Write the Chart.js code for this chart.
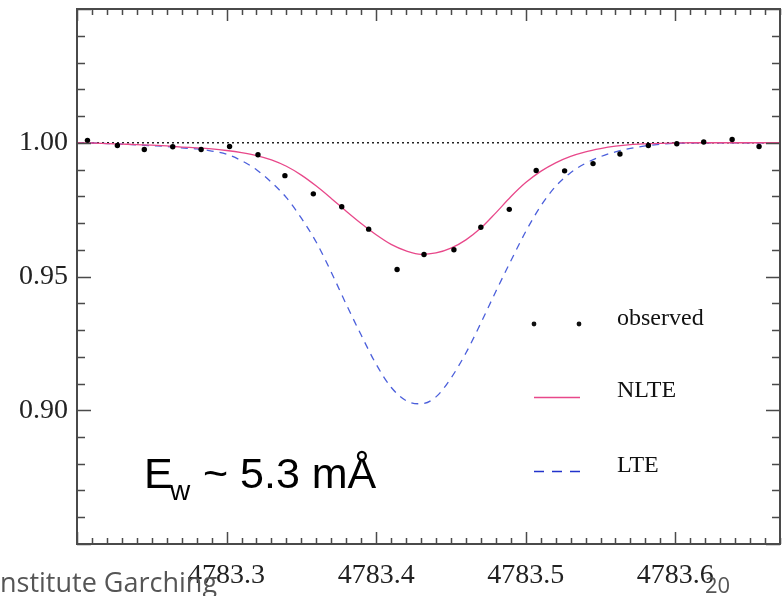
<!DOCTYPE html>
<html>
<head>
<meta charset="utf-8">
<script src="https://cdn.jsdelivr.net/npm/chart.js@4/dist/chart.umd.min.js"></script>
<style>
  html, body { margin: 0; padding: 0; background: #fff; }
  #wrap { width: 784px; height: 596px; }
</style>
</head>
<body>
<div id="wrap"><canvas id="lineChart" width="784" height="596"></canvas></div>
<script>
// observed spectrum (wavelength in A, normalised flux)
const obsWave = [4783.207, 4783.227, 4783.245, 4783.264, 4783.283, 4783.302, 4783.321, 4783.339, 4783.358,
  4783.377, 4783.395, 4783.414, 4783.432, 4783.452, 4783.470, 4783.489, 4783.507, 4783.526, 4783.545,
  4783.563, 4783.582, 4783.601, 4783.619, 4783.638, 4783.656];
const obsFlux = [1.0009, 0.9990, 0.9975, 0.9985, 0.9975, 0.9986, 0.9955, 0.9877, 0.9809,
  0.9761, 0.9677, 0.9526, 0.9582, 0.9600, 0.9684, 0.9751, 0.9896, 0.9895, 0.9922,
  0.9958, 0.9990, 0.9996, 1.0003, 1.0012, 0.9986];

// synthetic profiles
const modelWave = [4783.20, 4783.21, 4783.22, 4783.23, 4783.24, 4783.25, 4783.26, 4783.27, 4783.28, 4783.29,
  4783.30, 4783.31, 4783.32, 4783.33, 4783.34, 4783.35, 4783.36, 4783.37, 4783.38, 4783.39,
  4783.40, 4783.41, 4783.42, 4783.43, 4783.44, 4783.45, 4783.46, 4783.47, 4783.48, 4783.49,
  4783.50, 4783.51, 4783.52, 4783.53, 4783.54, 4783.55, 4783.56, 4783.57, 4783.58, 4783.59,
  4783.60, 4783.61, 4783.62, 4783.63, 4783.64, 4783.65, 4783.66, 4783.67];
const nlteFlux = [1.0000, 0.9999, 0.9997, 0.9995, 0.9993, 0.9991, 0.9988, 0.9984, 0.9981, 0.9977,
  0.9971, 0.9963, 0.9952, 0.9936, 0.9912, 0.9879, 0.9838, 0.9792, 0.9744, 0.9698,
  0.9656, 0.9620, 0.9596, 0.9583, 0.9588, 0.9606, 0.9637, 0.9681, 0.9738, 0.9798,
  0.9851, 0.9893, 0.9925, 0.9949, 0.9966, 0.9978, 0.9987, 0.9993, 0.9996, 0.9998,
  0.9999, 1.0000, 1.0000, 1.0000, 1.0000, 1.0000, 1.0000, 1.0000];
const lteFlux = [1.0000, 0.9999, 0.9997, 0.9995, 0.9992, 0.9989, 0.9986, 0.9981, 0.9977, 0.9969,
  0.9957, 0.9933, 0.9899, 0.9852, 0.9795, 0.9718, 0.9628, 0.9516, 0.9396, 0.9281,
  0.9172, 0.9086, 0.9036, 0.9024, 0.9050, 0.9120, 0.9214, 0.9326, 0.9444, 0.9558,
  0.9668, 0.9763, 0.9837, 0.9888, 0.9923, 0.9948, 0.9966, 0.9979, 0.9988, 0.9994,
  0.9998, 0.9999, 1.0000, 1.0000, 1.0000, 1.0000, 1.0000, 1.0000];

const continuumWave = [4783.20, 4783.67];
const continuumFlux = [1.0, 1.0];

const xTickLabels = ['4783.3', '4783.4', '4783.5', '4783.6'];
const yTickLabels = ['0.90', '0.95', '1.00'];
const legendLabels = ['observed', 'NLTE', 'LTE'];

const NLTE_COLOR = '#e8488a';
const LTE_COLOR = '#4b5fdb';
const AXIS_COLOR = '#4a4a4a';
const SERIF = "'Liberation Serif', 'DejaVu Serif', serif";

const toPoints = (xs, ys) => xs.map((x, i) => ({ x, y: ys[i] }));

const noPad = (s) => { s.paddingTop = 0; s.paddingBottom = 0; s.paddingLeft = 0; s.paddingRight = 0; };

// frame + inward ticks on all four sides, annotation, legend, slide footer
const decorations = {
  id: 'decorations',
  afterDraw(chart) {
    const { ctx, chartArea: a, scales } = chart;
    const xs = scales.x, ys = scales.y;
    ctx.save();
    ctx.strokeStyle = AXIS_COLOR;
    ctx.lineWidth = 1.5;

    for (let k = 0; k <= 47; k++) {
      const v = 4783.2 + k * 0.01;
      const px = Math.round(xs.getPixelForValue(v)) + 0.5;
      const len = k % 10 === 0 ? 12 : 6;
      ctx.beginPath();
      ctx.moveTo(px, a.bottom); ctx.lineTo(px, a.bottom - len);
      ctx.moveTo(px, a.top); ctx.lineTo(px, a.top + len);
      ctx.stroke();
    }
    for (let k = 0; k <= 20; k++) {
      const v = 0.85 + k * 0.01;
      const py = Math.round(ys.getPixelForValue(v)) + 0.5;
      const len = k % 5 === 0 ? 14 : 8;
      ctx.beginPath();
      ctx.moveTo(a.left, py); ctx.lineTo(a.left + len, py);
      ctx.moveTo(a.right, py); ctx.lineTo(a.right - len, py);
      ctx.stroke();
    }
    ctx.lineWidth = 2;
    ctx.strokeRect(a.left, a.top, a.right - a.left, a.bottom - a.top);

    // legend
    ctx.fillStyle = '#111';
    ctx.font = `24px ${SERIF}`;
    ctx.textAlign = 'left';
    ctx.textBaseline = 'alphabetic';
    ctx.fillText(legendLabels[0], 617, 325);
    ctx.fillText(legendLabels[1], 617, 397);
    ctx.fillText(legendLabels[2], 617, 472);
    ctx.beginPath(); ctx.arc(534, 324, 2.4, 0, Math.PI * 2); ctx.fill();
    ctx.beginPath(); ctx.arc(579, 324, 2.4, 0, Math.PI * 2); ctx.fill();
    ctx.strokeStyle = NLTE_COLOR;
    ctx.lineWidth = 1.5;
    ctx.beginPath(); ctx.moveTo(534, 397.5); ctx.lineTo(580, 397.5); ctx.stroke();
    ctx.strokeStyle = '#2233cc';
    ctx.setLineDash([10, 8]);
    ctx.beginPath(); ctx.moveTo(534, 471.5); ctx.lineTo(580, 471.5); ctx.stroke();
    ctx.setLineDash([]);

    // equivalent width note
    ctx.fillStyle = '#000';
    ctx.font = "43px 'Liberation Sans', Arial, sans-serif";
    ctx.fillText('E', 144, 488);
    ctx.font = "28px 'Liberation Sans', Arial, sans-serif";
    ctx.fillText('w', 170, 500);
    ctx.font = "43px 'Liberation Sans', Arial, sans-serif";
    ctx.fillText('~ 5.3 mÅ', 203, 488);

    // slide footer remnants
    ctx.fillStyle = '#555';
    ctx.font = "27px 'Open Sans', sans-serif";
    ctx.fillText('nstitute Garching', 0, 592);
    ctx.font = "22px 'Open Sans', sans-serif";
    ctx.fillText('20', 705, 593);
    ctx.restore();
  }
};

new Chart(document.getElementById('lineChart'), {
  type: 'scatter',
  data: {
    datasets: [
      { label: 'observed', data: toPoints(obsWave, obsFlux), backgroundColor: '#000', borderColor: '#000', pointRadius: 2.7, pointBorderWidth: 0, showLine: false },
      { label: 'NLTE', data: toPoints(modelWave, nlteFlux), borderColor: NLTE_COLOR, borderWidth: 1.3, pointRadius: 0, showLine: true, cubicInterpolationMode: 'monotone' },
      { label: 'LTE', data: toPoints(modelWave, lteFlux), borderColor: LTE_COLOR, borderWidth: 1.3, borderDash: [7, 6], pointRadius: 0, showLine: true, cubicInterpolationMode: 'monotone' },
      { label: 'continuum', data: toPoints(continuumWave, continuumFlux), borderColor: '#222', borderWidth: 1.5, borderDash: [2, 3], pointRadius: 0, showLine: true },
    ],
  },
  options: {
    responsive: false,
    animation: false,
    layout: { padding: { top: 9, right: 3, left: 0, bottom: 0 } },
    plugins: { legend: { display: false }, tooltip: { enabled: false } },
    scales: {
      x: {
        type: 'linear', min: 4783.2, max: 4783.67,
        afterFit: (s) => { s.height = 52; noPad(s); },
        grid: { display: false, drawTicks: false },
        border: { display: false },
        ticks: {
          stepSize: 0.1, includeBounds: false, autoSkip: false, maxRotation: 0, padding: 15, color: '#222',
          font: { family: SERIF, size: 28 },
          callback: (v) => { const t = Number(v).toFixed(1); return xTickLabels.includes(t) ? t : null; },
        },
      },
      y: {
        min: 0.85, max: 1.05,
        afterFit: (s) => { s.width = 77; noPad(s); },
        grid: { display: false, drawTicks: false },
        border: { display: false },
        ticks: {
          stepSize: 0.05, includeBounds: false, autoSkip: false, padding: 9, color: '#222',
          font: { family: SERIF, size: 28 },
          callback: (v) => { const t = Number(v).toFixed(2); return yTickLabels.includes(t) ? t : null; },
        },
      },
    },
  },
  plugins: [decorations],
});
</script>
</body>
</html>
